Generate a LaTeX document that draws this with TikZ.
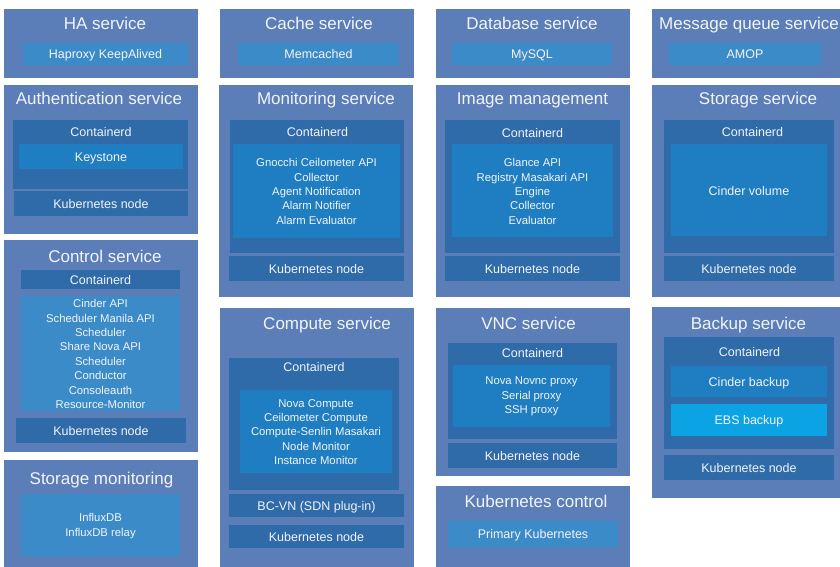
\documentclass[tikz,border=0pt]{standalone}
\usepackage{fontspec}
\setmainfont{Liberation Sans}
\usetikzlibrary{fit}
\definecolor{outerc}{RGB}{91,126,184}
\definecolor{darkc}{RGB}{47,107,169}
\definecolor{brightc}{RGB}{31,126,193}
\definecolor{lightc}{RGB}{60,139,201}
\definecolor{ebsc}{RGB}{11,163,228}
\definecolor{txtc}{RGB}{242,244,248}
\tikzset{
  blk/.style={inner sep=0pt, outer sep=0pt, draw=none},
  outerbox/.style={blk, fill=outerc},
  darkbox/.style={blk, fill=darkc},
  brightbox/.style={blk, fill=brightc},
  lightbox/.style={blk, fill=lightc},
  ebsbox/.style={blk, fill=ebsc},
  ttl/.style={text=txtc, inner sep=0pt, text height=12.2pt, text depth=0pt, font=\fontsize{17}{20}\selectfont},
  lbl/.style={text=txtc, inner sep=0pt, text height=9pt, text depth=0pt, font=\fontsize{12.5}{15}\selectfont},
  lst/.style={text=txtc, inner sep=0pt, align=center, font=\fontsize{11.3}{14.4}\selectfont},
}
\begin{document}
\begin{tikzpicture}[x=1pt,y=-1pt]
\clip (0,0) rectangle (840,567);
\fill[white] (0,0) rectangle (840,567);
% ---------- column 1 ----------
\node[outerbox, fit={(4,9)(198,78)}] (ha) {};
\node[lightbox, fit={(23,43)(188,65)}] (haB) {};
\node[ttl] (haT) at (105,23) {HA service};
\node[lbl] (haBT) at (105.5,54) {Haproxy KeepAlived};

\node[outerbox, fit={(4,85)(198,234)}] (auth) {};
\node[darkbox, fit={(13,120)(188,189)}] (authC) {};
\node[brightbox, fit={(19,144)(183,169)}] (authK) {};
\node[darkbox, fit={(14,191)(188,216)}] (authN) {};
\node[ttl] (authT) at (99,98) {Authentication service};
\node[lbl] (authCT) at (101,132) {Containerd};
\node[lbl] (authKT) at (101,156.5) {Keystone};
\node[lbl] (authNT) at (101,203.5) {Kubernetes node};

\node[outerbox, fit={(4,240)(198,452)}] (ctrl) {};
\node[darkbox, fit={(21,270)(180,289)}] (ctrlC) {};
\node[lightbox, fit={(21,296)(180,411)}] (ctrlL) {};
\node[darkbox, fit={(16,418)(186,443)}] (ctrlN) {};
\node[ttl] (ctrlT) at (105,256) {Control service};
\node[lbl] (ctrlCT) at (100.5,279.5) {Containerd};
\node[lst] (ctrlLT) at (100.5,354) {Cinder API\\Scheduler Manila API\\Scheduler\\Share Nova API\\Scheduler\\Conductor\\Consoleauth\\Resource-Monitor};
\node[lbl] (ctrlNT) at (101,430.5) {Kubernetes node};

\node[outerbox, fit={(4,460)(198,567)}] (smon) {};
\node[lightbox, fit={(21,494)(180,556)}] (smonL) {};
\node[ttl] (smonT) at (101.5,478) {Storage monitoring};
\node[lst] (smonLT) at (100.5,526) {InfluxDB\\InfluxDB relay};

% ---------- column 2 ----------
\node[outerbox, fit={(220,9)(414,78)}] (cache) {};
\node[lightbox, fit={(238,43)(399,65)}] (cacheB) {};
\node[ttl] (cacheT) at (319,23) {Cache service};
\node[lbl] (cacheBT) at (318.5,54) {Memcached};

\node[outerbox, fit={(219,85)(413,297)}] (mon) {};
\node[darkbox, fit={(230,120)(404,253)}] (monC) {};
\node[brightbox, fit={(233,144)(400,238)}] (monL) {};
\node[darkbox, fit={(229,256)(404,281)}] (monN) {};
\node[ttl] (monT) at (326,98) {Monitoring service};
\node[lbl] (monCT) at (317.5,132) {Containerd};
\node[lst] (monLT) at (316.5,191.5) {Gnocchi Ceilometer API\\Collector\\Agent Notification\\Alarm Notifier\\Alarm Evaluator};
\node[lbl] (monNT) at (316.5,268.5) {Kubernetes node};

\node[outerbox, fit={(220,308)(414,567)}] (comp) {};
\node[darkbox, fit={(229,358)(399,490)}] (compC) {};
\node[brightbox, fit={(240,390)(392,473)}] (compL) {};
\node[darkbox, fit={(229,494)(404,517)}] (compB) {};
\node[darkbox, fit={(229,525)(404,548)}] (compN) {};
\node[ttl] (compT) at (327,323) {Compute service};
\node[lbl] (compCT) at (314,367) {Containerd};
\node[lst] (compLT) at (316,432) {Nova Compute\\Ceilometer Compute\\Compute-Senlin Masakari\\Node Monitor\\Instance Monitor};
\node[lbl] (compBT) at (316.5,505.5) {BC-VN (SDN plug-in)};
\node[lbl] (compNT) at (316.5,536.5) {Kubernetes node};

% ---------- column 3 ----------
\node[outerbox, fit={(436,9)(630,78)}] (db) {};
\node[lightbox, fit={(452,43)(612,65)}] (dbB) {};
\node[ttl] (dbT) at (532,23) {Database service};
\node[lbl] (dbBT) at (532,54) {MySQL};

\node[outerbox, fit={(436,85)(630,297)}] (img) {};
\node[darkbox, fit={(445,120)(620,253)}] (imgC) {};
\node[brightbox, fit={(452,144)(613,237)}] (imgL) {};
\node[darkbox, fit={(445,256)(620,281)}] (imgN) {};
\node[ttl] (imgT) at (532.5,98) {Image management};
\node[lbl] (imgCT) at (532.5,133) {Containerd};
\node[lst] (imgLT) at (532.5,191.5) {Glance API\\Registry Masakari API\\Engine\\Collector\\Evaluator};
\node[lbl] (imgNT) at (532.5,268.5) {Kubernetes node};

\node[outerbox, fit={(436,308)(630,476)}] (vnc) {};
\node[darkbox, fit={(448,343)(617,439)}] (vncC) {};
\node[brightbox, fit={(453,365)(610,427)}] (vncL) {};
\node[darkbox, fit={(448,443)(617,468)}] (vncN) {};
\node[ttl] (vncT) at (528.5,323) {VNC service};
\node[lbl] (vncCT) at (532.5,353) {Containerd};
\node[lst] (vncLT) at (531.5,396.5) {Nova Novnc proxy\\Serial proxy\\SSH proxy};
\node[lbl] (vncNT) at (532.5,455.5) {Kubernetes node};

\node[outerbox, fit={(436,486)(630,567)}] (kc) {};
\node[lightbox, fit={(448,521)(618,547)}] (kcB) {};
\node[ttl] (kcT) at (536,501) {Kubernetes control};
\node[lbl] (kcBT) at (533,534) {Primary Kubernetes};

% ---------- column 4 ----------
\node[outerbox, fit={(652,9)(846,78)}] (mq) {};
\node[lightbox, fit={(669,43)(821,65)}] (mqB) {};
\node[ttl] (mqT) at (749,23) {Message queue service};
\node[lbl] (mqBT) at (745,54) {AMOP};

\node[outerbox, fit={(652,85)(846,297)}] (sto) {};
\node[darkbox, fit={(664,120)(834,253)}] (stoC) {};
\node[brightbox, fit={(671,144)(827,236)}] (stoL) {};
\node[darkbox, fit={(664,256)(834,281)}] (stoN) {};
\node[ttl] (stoT) at (758,98) {Storage service};
\node[lbl] (stoCT) at (752.5,132) {Containerd};
\node[lbl] (stoLT) at (749,190.5) {Cinder volume};
\node[lbl] (stoNT) at (749,268.5) {Kubernetes node};

\node[outerbox, fit={(652,307)(846,498)}] (bak) {};
\node[darkbox, fit={(664,337)(834,449)}] (bakC) {};
\node[brightbox, fit={(671,366)(827,397)}] (bakA) {};
\node[ebsbox, fit={(671,404)(827,436)}] (bakE) {};
\node[darkbox, fit={(664,455)(834,480)}] (bakN) {};
\node[ttl] (bakT) at (748.5,323) {Backup service};
\node[lbl] (bakCT) at (749.5,352) {Containerd};
\node[lbl] (bakAT) at (749,381.5) {Cinder backup};
\node[lbl] (bakET) at (749,420) {EBS backup};
\node[lbl] (bakNT) at (749,467.5) {Kubernetes node};
\end{tikzpicture}
\end{document}
